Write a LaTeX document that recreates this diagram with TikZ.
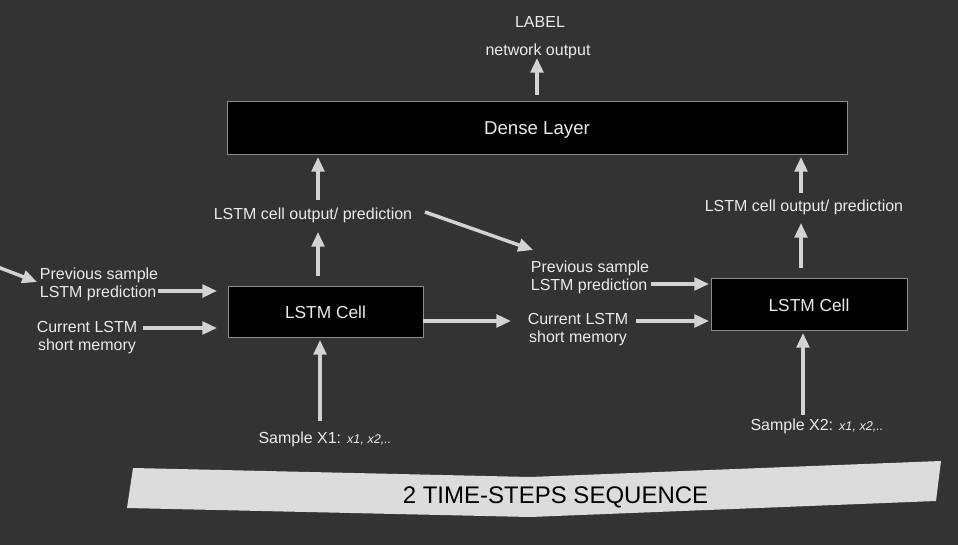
\documentclass[tikz,border=0pt]{standalone}
\usepackage{fontspec}
\setmainfont{Liberation Sans}
\usetikzlibrary{arrows.meta}
\definecolor{bgc}{HTML}{333333}
\definecolor{txtc}{HTML}{EBEBEB}
\definecolor{arrc}{HTML}{D3D3D3}
\definecolor{brdc}{HTML}{8A8A8A}
\definecolor{banc}{HTML}{DCDCDC}
\tikzset{
  arr/.style={draw=arrc, line width=2.6pt, -{Triangle[length=11pt,width=9.5pt]}},
  txt/.style={text=txtc, inner sep=0pt, text depth=0pt, font=\fontsize{12pt}{13.5pt}\selectfont},
  cellbox/.style={draw=brdc, line width=0.75pt, fill=black, text=txtc, inner sep=0pt, text depth=0pt, font=\fontsize{13pt}{15pt}\selectfont},
}
\begin{document}
\begin{tikzpicture}[x=0.75pt,y=-0.75pt]
\fill[bgc] (0,0) rectangle (958,545);
\useasboundingbox (0,0) rectangle (958,545);

% boxes
\node[cellbox, minimum width=465pt, minimum height=39.75pt, font=\fontsize{14pt}{16pt}\selectfont] (dense) at (537,128.5) {Dense Layer};
\node[cellbox, minimum width=146.25pt, minimum height=38.25pt] (lstm1) at (325.5,312.5) {LSTM Cell};
\node[cellbox, minimum width=147pt, minimum height=39pt] (lstm2) at (809,305) {LSTM Cell};

% texts
\node[txt] (label) at (540,22) {LABEL};
\node[txt] (netout) at (538,50) {network output};
\node[txt] (out1) at (313,214) {LSTM cell output/ prediction};
\node[txt] (out2) at (804,206) {LSTM cell output/ prediction};
\node[txt, align=left] (prev0) at (99,283) {Previous sample\\LSTM prediction};
\node[txt, align=center] (cur0) at (87,336) {Current LSTM\\short memory};
\node[txt, align=left] (prev1) at (590,276) {Previous sample\\LSTM prediction};
\node[txt, align=center] (cur1) at (578,328) {Current LSTM\\short memory};
\node[txt] (s1) at (325,438) {Sample X1: {\fontsize{9.5pt}{11pt}\selectfont\itshape x1, x2,..}};
\node[txt] (s2) at (817,425) {Sample X2: {\fontsize{9.5pt}{11pt}\selectfont\itshape x1, x2,..}};

% banner
\fill[banc] (133,468) -- (530,477) -- (941,461) -- (936,501) -- (530,517) -- (127,508) -- cycle;
\node[text=black, inner sep=0pt, text depth=0pt, font=\fontsize{18pt}{20pt}\selectfont] (seq) at (555.5,495) {2 TIME-STEPS SEQUENCE};

% connectors
\coordinate (inL) at (-5,266);
\draw[arr] (inL) -- ([shift={(-62,-1)}]prev0.center);
\draw[arr] ([shift={(59,8)}]prev0.center) -- ([shift={(-108.5,-21.5)}]lstm1.center);
\draw[arr] ([shift={(56,-8)}]cur0.center) -- ([shift={(-108.5,15.5)}]lstm1.center);
\draw[arr] ([shift={(97.5,8.5)}]lstm1.center) -- ([shift={(-67,-7)}]cur1.center);
\draw[arr] ([shift={(112,-2)}]out1.center) -- ([shift={(-57,-26)}]prev1.center);
\draw[arr] ([shift={(61,8)}]prev1.center) -- ([shift={(-100,-21)}]lstm2.center);
\draw[arr] ([shift={(58,-7)}]cur1.center) -- ([shift={(-100,16)}]lstm2.center);
\draw[arr] ([shift={(-7.5,-36.5)}]lstm1.center) -- ([shift={(5,18)}]out1.center);
\draw[arr] ([shift={(5,-14)}]out1.center) -- ([shift={(-219,28.5)}]dense.center);
\draw[arr] ([shift={(-8,-37)}]lstm2.center) -- ([shift={(-3,17)}]out2.center);
\draw[arr] ([shift={(-3,-13)}]out2.center) -- ([shift={(264,28.5)}]dense.center);
\draw[arr] ([shift={(-5,-17)}]s1.center) -- ([shift={(-5.5,27.5)}]lstm1.center);
\draw[arr] ([shift={(-14,-10)}]s2.center) -- ([shift={(-6,28)}]lstm2.center);
\draw[arr] ([shift={(0,-33.5)}]dense.center) -- ([shift={(-1,8)}]netout.center);
\end{tikzpicture}
\end{document}
